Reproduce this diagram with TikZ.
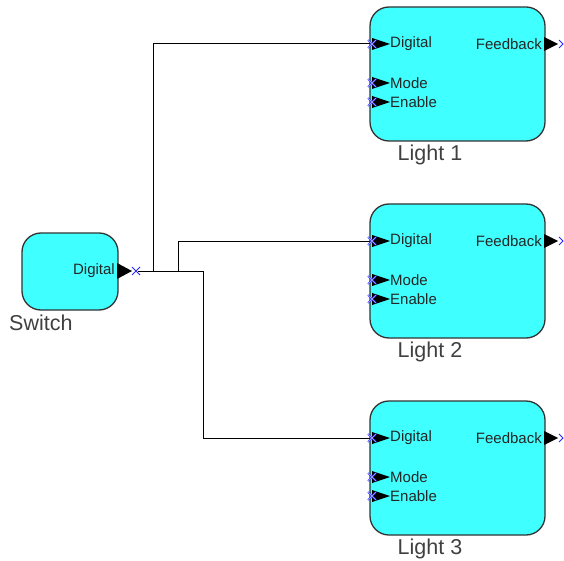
\documentclass[tikz,border=0pt]{standalone}
\usepackage{fontspec}
\setmainfont{Liberation Sans}
\definecolor{boxcyan}{RGB}{64,255,255}
\definecolor{portblue}{RGB}{40,40,255}
\begin{document}
\begin{tikzpicture}[x=1pt,y=-1pt,
  blockbox/.style={draw=black!80,line width=1.3pt,fill=boxcyan,rounded corners=19pt},
  tri/.style={fill=black},
  xmark/.style={draw=portblue,line width=1.5pt},
  xinner/.style={draw=portblue!35,line width=0.5pt},
  portlbl/.style={font=\fontsize{15}{16}\selectfont,text=black!85,inner sep=0pt},
  namelbl/.style={font=\fontsize{21.5}{23}\selectfont,text=black!75,inner sep=0pt},
  wire/.style={draw=black,line width=1pt}]
\useasboundingbox (0,0) rectangle (564,561);
% Switch block
\draw[blockbox] (22,233) rectangle (118,310);
\node[portlbl,anchor=east] (swd) at (115,271) {Digital};
\node[namelbl,anchor=west] (swn) at (9,323) {Switch};
\fill[tri] (117,263) -- (132,271) -- (117,279) -- cycle;
\coordinate (swout) at (138,271);
\draw[draw=portblue,line width=1pt] (132,267) -- (140,275) (132,275) -- (140,267);
% Light blocks
\foreach \i/\dy in {1/0,2/197,3/394}{
  \draw[blockbox] (370,7+\dy) rectangle (545,141+\dy);
  \node[namelbl,anchor=center] (ln\i) at (430,155+\dy) {Light \i};
  \node[portlbl,anchor=west] (dig\i) at (390,44+\dy) {Digital};
  \node[portlbl,anchor=west] (mod\i) at (390,83+\dy) {Mode};
  \node[portlbl,anchor=west] (ena\i) at (390,102+\dy) {Enable};
  \node[portlbl,anchor=east] (fb\i) at (542,44+\dy) {Feedback};
  \foreach \yy in {44,83,102}{
    \fill[tri] (372,\yy-6+\dy) -- (390,\yy+\dy) -- (372,\yy+6+\dy) -- cycle;
    \draw[xmark] (368,\yy-4+\dy) -- (376,\yy+4+\dy) (368,\yy+4+\dy) -- (376,\yy-4+\dy);
    \draw[xinner] (368,\yy-4+\dy) -- (376,\yy+4+\dy) (368,\yy+4+\dy) -- (376,\yy-4+\dy);
  }
  \fill[tri] (544,37+\dy) -- (558,44+\dy) -- (544,51+\dy) -- cycle;
  \draw[draw=portblue,line width=1pt] (559,40+\dy) -- (563,44+\dy) -- (559,48+\dy);
  \coordinate (in\i) at (370,44+\dy);
}
% Wires
\draw[wire] (swout) -- (203,271) |- (in3);
\draw[wire] (153,271) |- (in1);
\draw[wire] (178,271) |- (in2);
\end{tikzpicture}
\end{document}
